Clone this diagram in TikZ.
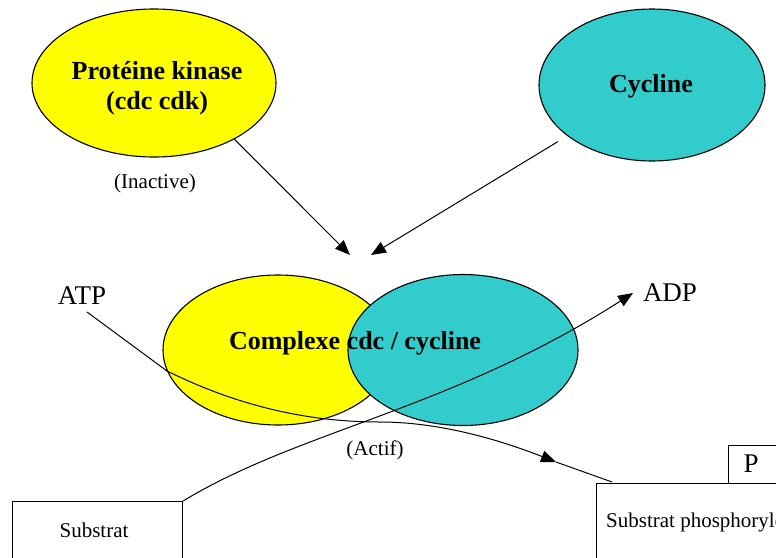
\documentclass[tikz,border=0pt]{standalone}
\usepackage{fontspec}
\setmainfont{Liberation Serif}
\usetikzlibrary{arrows.meta,shapes.geometric}
\definecolor{kinaseyellow}{RGB}{255,255,0}
\definecolor{cyclineteal}{RGB}{51,204,204}
\begin{document}
\begin{tikzpicture}[x=1pt,y=-1pt,
  blob/.style={ellipse, draw=black, line width=1.1pt, inner sep=0pt},
  bigbold/.style={font=\fontsize{26}{30}\selectfont\bfseries, align=center, inner sep=0pt},
  molecule/.style={font=\fontsize{27}{30}\selectfont, inner sep=0pt},
  note/.style={font=\fontsize{21}{24}\selectfont, inner sep=0pt},
  flow/.style={draw=black, line width=1pt},
  head/.style={-{Triangle[length=15pt,width=12pt]}},
  box/.style={draw=black, line width=1.1pt, inner sep=0pt}]
\useasboundingbox (0,0) rectangle (776,557);
\clip (0,0) rectangle (776,557);

% free subunits
\node[blob, fill=kinaseyellow, minimum width=244pt, minimum height=148pt] (kinase) at (154,83) {};
\node[bigbold] (kinaselbl) at (157,88) {Protéine kinase\\(cdc cdk)};
\node[note] (inactive) at (155,183) {(Inactive)};
\node[blob, fill=cyclineteal, minimum width=226pt, minimum height=152pt] (cycline) at (652,85) {};
\node[bigbold] (cyclinelbl) at (651,86) {Cycline};

% active complex
\node[blob, fill=kinaseyellow, minimum width=230pt, minimum height=150pt] (cplxK) at (278,350) {};
\node[blob, fill=cyclineteal, minimum width=230pt, minimum height=151pt] (cplxC) at (463,350) {};
\node[bigbold] (cplxlbl) at (355,343) {Complexe cdc / cycline};
\node[note] (actif) at (375,450) {(Actif)};

% nucleotides
\node[molecule] (atp) at (82,296) {ATP};
\node[molecule] (adp) at (670,293) {ADP};

% substrates
\node[box, minimum width=170pt, minimum height=80pt, anchor=north west] (substrat) at (12,501) {};
\node[note] (substratlbl) at (94,530) {Substrat};
\node[box, minimum width=80pt, minimum height=38pt, anchor=north west] (pbox) at (728,445) {};
\node[molecule] (plbl) at (751,464) {P};
\node[box, fill=white, minimum width=220pt, minimum height=100pt, anchor=north west] (phos) at (596,483) {};
\node[note, anchor=west] (phoslbl) at (606,522) {Substrat phosphorylé};

% waypoints of the connectors
\coordinate (tipK) at (350,255);
\coordinate (tipC) at (371,255);
\coordinate (atpfoot) at (87,312);
\coordinate (bendA) at (167,371);
\coordinate (flatA) at (380,422);
\coordinate (tipATP) at (556,462);
\coordinate (phosin) at (612,482);
\coordinate (tipADP) at (633,293);

% association of the subunits
\draw[flow, head] (kinase.-35) -- (tipK);
\draw[flow, head, shorten <=11pt] (cycline.211.5) -- (tipC);

% phosphate transfer
\draw[flow, head] (atpfoot) -- (bendA) .. controls (220,397) and (290,422) .. (flatA)
  .. controls (440,422) and (500,440) .. (tipATP);
\draw[flow] (tipATP) -- (phosin);
\draw[flow, head] (substrat.north east) .. controls (300,430) and (450,410) .. (tipADP);
\end{tikzpicture}
\end{document}
